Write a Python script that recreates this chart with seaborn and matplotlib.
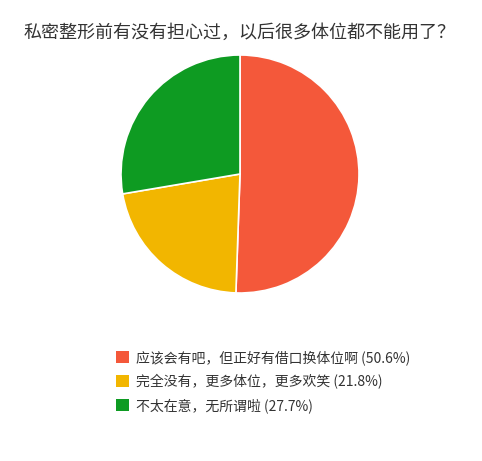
import matplotlib

matplotlib.use("Agg")

import matplotlib.pyplot as plt
import seaborn as sns
from matplotlib.patches import Patch

title = "私密整形前有没有担心过，以后很多体位都不能用了？"
answers = ["应该会有吧，但正好有借口换体位啊", "完全没有，更多体位，更多欢笑", "不太在意，无所谓啦"]
shares = [50.6, 21.8, 27.7]
colors = ["#F4583A", "#F2B600", "#0E9B22"]

W, H = 482, 461


def main() -> None:
    sns.set_theme(style="white")
    plt.rcParams["font.family"] = ["Noto Sans CJK SC", "DejaVu Sans"]
    palette = sns.color_palette(colors)

    fig = plt.figure(figsize=(W / 100, H / 100), dpi=100)
    fig.patch.set_facecolor("white")

    # pie: centre ~ (240, 174) px from top-left, radius ~119 px
    cx, cy, r = 240, 174, 119
    ax = fig.add_axes([(cx - r) / W, (H - cy - r) / H, 2 * r / W, 2 * r / H])
    ax.pie(
        shares,
        colors=palette,
        startangle=90,
        counterclock=False,
        radius=1.0,
        wedgeprops=dict(edgecolor="white", linewidth=1.2),
    )
    ax.set_xlim(-1, 1)
    ax.set_ylim(-1, 1)
    ax.set_aspect("equal")
    ax.axis("off")

    fig.text(24 / W, 1 - 33 / H, title, ha="left", va="center", fontsize=13, color="#333333")

    handles = [Patch(facecolor=c, edgecolor="none") for c in palette]
    labels = [f"{a} ({s}%)" for a, s in zip(answers, shares)]
    fig.legend(
        handles,
        labels,
        loc="upper left",
        bbox_to_anchor=(116 / W, 1 - 350 / H),
        frameon=False,
        fontsize=10,
        handlelength=0.95,
        handleheight=0.95,
        handletextpad=0.5,
        labelspacing=0.65,
        borderpad=0,
        borderaxespad=0,
        labelcolor="#333333",
    )

    fig.savefig("out.png", dpi=100)
    plt.close(fig)


if __name__ == "__main__":
    main()
